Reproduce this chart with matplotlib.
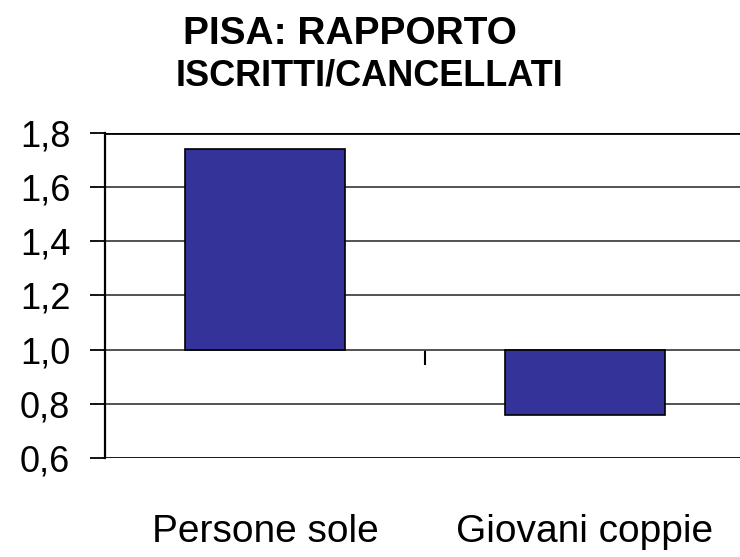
import matplotlib.pyplot as plt

# data
categories = ['Persone sole', 'Giovani coppie']
ratios = [1.741, 0.76]
baseline = 1.0
yticks = [0.6, 0.8, 1.0, 1.2, 1.4, 1.6, 1.8]

plt.rcParams['font.family'] = ['Liberation Sans', 'DejaVu Sans']

fig = plt.figure(figsize=(7.4, 5.57), dpi=100)
W, H = 740, 557
ax = fig.add_axes([105 / W, (H - 458) / H, 640 / W, 325 / H])

x = range(len(categories))
heights = [r - baseline for r in ratios]
ax.bar(x, heights, bottom=baseline, width=0.5, color='#333399',
       edgecolor='black', linewidth=1.2, zorder=3)

ax.set_xlim(-0.5, 1.5)
ax.set_ylim(0.6, 1.8)
ax.set_yticks(yticks)
ax.set_yticklabels([f'{v:.1f}'.replace('.', ',') for v in yticks], fontsize=26)
ax.tick_params(axis='y', direction='out', length=11, width=1.3, pad=14)

ax.set_xticks(list(x))
ax.set_xticklabels(categories, fontsize=28)
ax.tick_params(axis='x', length=0, pad=40)

# gridlines
for v in yticks:
    edge = v in (yticks[0], yticks[-1])
    ax.axhline(v, color='black' if edge else '#444444', lw=2 if edge else 1.3, zorder=1)

for s in ['top', 'right', 'bottom']:
    ax.spines[s].set_visible(False)
ax.spines['left'].set_linewidth(1.6)

# category separator tick on the axis crossing at 1.0
sec = ax.secondary_xaxis((baseline - 0.6) / 1.2)
sec.set_xticks([0.5])
sec.set_xticklabels([])
sec.tick_params(direction='out', length=11, width=1.5)
sec.spines['bottom'].set_visible(False)

fig.text(350 / W, 1 - 44 / H, 'PISA: RAPPORTO', ha='center', va='baseline',
         fontsize=28, fontweight='bold')
fig.text(370 / W, 1 - 86 / H, 'ISCRITTI/CANCELLATI', ha='center', va='baseline',
         fontsize=26, fontweight='bold')

fig.savefig('out.png', dpi=100)
